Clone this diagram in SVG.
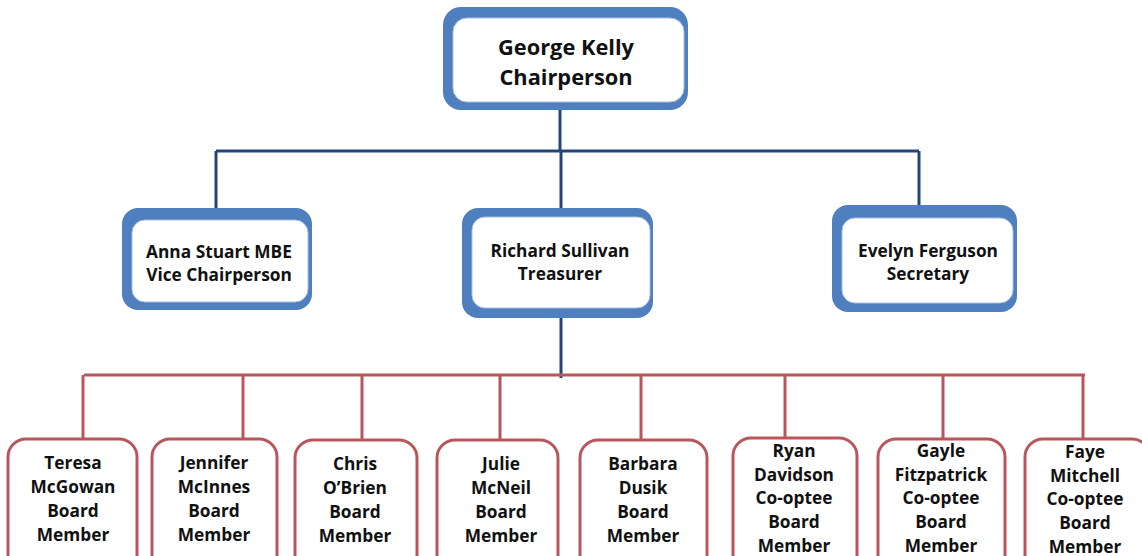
<svg xmlns="http://www.w3.org/2000/svg" width="1142" height="556" viewBox="0 0 1142 556">
<style>
.bo{fill:#4f7fbe}
.bi{fill:#ffffff;stroke:#a9c2e2;stroke-width:1}
.rb{fill:#ffffff;stroke:#b9565b;stroke-width:3}
.bl{stroke:#24477a;stroke-width:3;fill:none}
.rl{stroke:#b9565b;stroke-width:3;fill:none}
text{font-family:"Open Sans","Liberation Sans",sans-serif;font-weight:bold;fill:#111;text-anchor:middle}
.t1{font-size:21.8px}
.t2{font-size:17.3px}
.t3{font-size:17.3px}
</style>
<rect width="1142" height="556" fill="#ffffff"/>
<g id="connectors">
<path class="bl" d="M560 110V151M216 151H919M216 151V208M561 151V208M919 151V205M561 318V378"/>
<path class="rl" d="M84 375H1085M83 375V438M243 375V439M362 375V440M500 375V440M641 375V440M785 375V438M943 375V439M1083 375V439"/>
</g>
<g id="george">
<rect class="bo" x="443" y="7" width="245" height="103" rx="18"/>
<rect class="bi" x="453" y="18" width="231" height="84" rx="14"/>
<text class="t1" x="566" y="55">George Kelly</text>
<text class="t1" x="566" y="85">Chairperson</text>
</g>
<g id="anna">
<rect class="bo" x="122" y="208" width="190" height="102" rx="16"/>
<rect class="bi" x="132" y="220" width="176" height="82" rx="13"/>
<text class="t2" x="219" y="258">Anna Stuart MBE</text>
<text class="t2" x="219" y="281">Vice Chairperson</text>
</g>
<g id="richard">
<rect class="bo" x="462" y="208" width="191" height="110" rx="16"/>
<rect class="bi" x="472" y="217" width="178" height="91" rx="13"/>
<text class="t2" x="560" y="257">Richard Sullivan</text>
<text class="t2" x="560" y="280">Treasurer</text>
</g>
<g id="evelyn">
<rect class="bo" x="832" y="205" width="185" height="107" rx="16"/>
<rect class="bi" x="842" y="218" width="171" height="85" rx="13"/>
<text class="t2" x="928" y="257">Evelyn Ferguson</text>
<text class="t2" x="928" y="280">Secretary</text>
</g>
<g id="teresa">
<rect class="rb" x="8" y="439" width="129" height="140" rx="18"/>
<text class="t3" x="73" y="469">Teresa</text>
<text class="t3" x="73" y="493">McGowan</text>
<text class="t3" x="73" y="517">Board</text>
<text class="t3" x="73" y="541">Member</text>
</g>
<g id="jennifer">
<rect class="rb" x="152" y="439" width="125" height="140" rx="18"/>
<text class="t3" x="214" y="469">Jennifer</text>
<text class="t3" x="214" y="493">McInnes</text>
<text class="t3" x="214" y="517">Board</text>
<text class="t3" x="214" y="541">Member</text>
</g>
<g id="chris">
<rect class="rb" x="295" y="440" width="122" height="140" rx="18"/>
<text class="t3" x="355" y="470">Chris</text>
<text class="t3" x="355" y="494">O’Brien</text>
<text class="t3" x="355" y="518">Board</text>
<text class="t3" x="355" y="542">Member</text>
</g>
<g id="julie">
<rect class="rb" x="437" y="440" width="121" height="140" rx="18"/>
<text class="t3" x="501" y="470">Julie</text>
<text class="t3" x="501" y="494">McNeil</text>
<text class="t3" x="501" y="518">Board</text>
<text class="t3" x="501" y="542">Member</text>
</g>
<g id="barbara">
<rect class="rb" x="580" y="440" width="127" height="140" rx="18"/>
<text class="t3" x="643" y="470">Barbara</text>
<text class="t3" x="643" y="494">Dusik</text>
<text class="t3" x="643" y="518">Board</text>
<text class="t3" x="643" y="542">Member</text>
</g>
<g id="ryan">
<rect class="rb" x="733" y="438" width="124" height="140" rx="18"/>
<text class="t3" x="794" y="457">Ryan</text>
<text class="t3" x="794" y="481">Davidson</text>
<text class="t3" x="794" y="504">Co-optee</text>
<text class="t3" x="794" y="528">Board</text>
<text class="t3" x="794" y="552">Member</text>
</g>
<g id="gayle">
<rect class="rb" x="878" y="439" width="127" height="140" rx="18"/>
<text class="t3" x="941" y="457">Gayle</text>
<text class="t3" x="941" y="481">Fitzpatrick</text>
<text class="t3" x="941" y="504">Co-optee</text>
<text class="t3" x="941" y="528">Board</text>
<text class="t3" x="941" y="552">Member</text>
</g>
<g id="faye">
<rect class="rb" x="1025" y="439" width="125" height="140" rx="18"/>
<text class="t3" x="1085" y="458">Faye</text>
<text class="t3" x="1085" y="482">Mitchell</text>
<text class="t3" x="1085" y="505">Co-optee</text>
<text class="t3" x="1085" y="529">Board</text>
<text class="t3" x="1085" y="553">Member</text>
</g>
</svg>
